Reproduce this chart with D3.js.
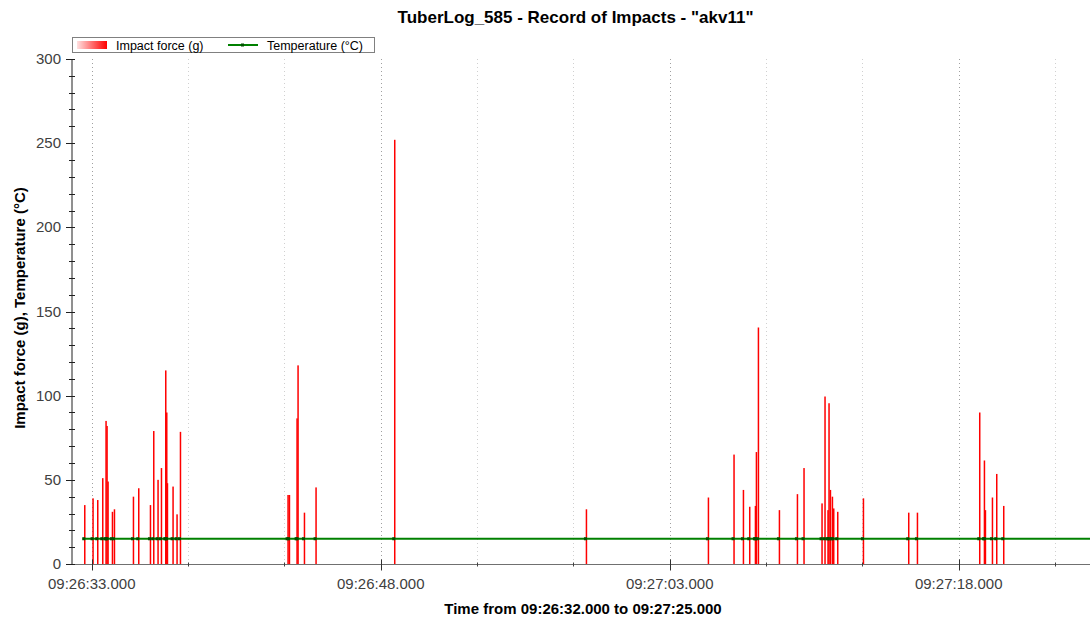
<!DOCTYPE html>
<html>
<head>
<meta charset="utf-8">
<script src="https://cdn.jsdelivr.net/npm/d3@7"></script>
<style>
  body { margin: 0; background: #fff; }
  svg { font-family: "Liberation Sans", Arial, sans-serif; }
</style>
</head>
<body>
<svg id="chart" width="1090" height="621"></svg>
<script>
// impact records (time, force in g, temperature in °C)
const impactTimes = [
  "09:26:32.637", "09:26:33.067", "09:26:33.311", "09:26:33.571", "09:26:33.742",
  "09:26:33.794", "09:26:33.846", "09:26:34.074", "09:26:34.178", "09:26:35.164",
  "09:26:35.439", "09:26:36.047", "09:26:36.218", "09:26:36.441", "09:26:36.618",
  "09:26:36.841", "09:26:36.893", "09:26:36.929", "09:26:37.220", "09:26:37.427",
  "09:26:37.604", "09:26:43.189", "09:26:43.261", "09:26:43.656", "09:26:43.708",
  "09:26:44.040", "09:26:44.642", "09:26:48.726", "09:26:58.676", "09:27:05.008",
  "09:27:06.337", "09:27:06.825", "09:27:07.152", "09:27:07.448", "09:27:07.499",
  "09:27:07.603", "09:27:08.693", "09:27:09.628", "09:27:09.970", "09:27:10.905",
  "09:27:11.060", "09:27:11.216", "09:27:11.268", "09:27:11.341", "09:27:11.444",
  "09:27:11.512", "09:27:11.720", "09:27:13.054", "09:27:15.405", "09:27:15.857",
  "09:27:19.090", "09:27:19.334", "09:27:19.386", "09:27:19.750", "09:27:19.973",
  "09:27:20.336"
];
const impactForces = [
  35, 39, 38, 51, 85, 82, 49, 31, 32.5, 40,
  45, 35, 79, 50, 57, 115, 90, 48, 46, 29.5,
  78.5, 41, 41, 86.5, 118, 30.5, 45.5, 252, 32.5, 39.5,
  65, 44, 34, 34.5, 66.5, 140.5, 32, 41.5, 57, 36,
  99.5, 32, 95.5, 44, 40, 33, 31, 39, 30.5, 30.5,
  90, 61.5, 32, 39.5, 53.5, 34.5
];
const impactTemps = [
  15, 15, 15, 15, 15, 15, 15, 15, 15, 15,
  15, 15, 15, 15, 15, 15, 15, 15, 15, 15,
  15, 15, 15, 15, 15, 15, 15, 15, 15, 15,
  15, 15, 15, 15, 15, 15, 15, 15, 15, 15,
  15, 15, 15, 15, 15, 15, 15, 15, 15, 15,
  15, 15, 15, 15, 15, 15
];
// temperature at the start and end of the record
const tempEdgeTimes = ["09:26:32.530", "09:27:25.000"];
const tempEdgeValues = [15, 15];

const timeStart = "09:26:32.000";
const timeEnd = "09:27:25.000";
const xTickTimes = ["09:26:33.000", "09:26:48.000", "09:27:03.000", "09:27:18.000"];
const yTicks = [0, 50, 100, 150, 200, 250, 300];

const title = 'TuberLog_585 - Record of Impacts - "akv11"';
const xTitle = "Time from 09:26:32.000 to 09:27:25.000";
const yTitle = "Impact force (g), Temperature (°C)";

const parse = d3.timeParse("%H:%M:%S.%L");
const fmt = d3.timeFormat("%H:%M:%S.%L");

const svg = d3.select("#chart");
const plotLeft = 72.5, plotRight = 1093.6, plotTop = 59, plotBottom = 564;

const x = d3.scaleTime()
    .domain([parse(timeStart), parse(timeEnd)])
    .range([plotLeft, plotRight]);
const y = d3.scaleLinear()
    .domain([0, 300])
    .range([plotBottom, plotTop]);

const defs = svg.append("defs");
const grad = defs.append("linearGradient").attr("id", "redGrad")
    .attr("x1", "0%").attr("x2", "100%");
grad.append("stop").attr("offset", "0%").attr("stop-color", "#ffe0e0");
grad.append("stop").attr("offset", "100%").attr("stop-color", "#ff0000");
defs.append("clipPath").attr("id", "plotClip")
    .append("rect").attr("x", plotLeft).attr("y", plotTop - 5)
    .attr("width", 1090 - plotLeft).attr("height", plotBottom - plotTop + 5);

// gridlines: major ticks every 15 s, minor every 5 s
const majorTimes = xTickTimes.map(parse);
const minorTimes = d3.timeSecond.every(1).range(parse(timeStart), parse(timeEnd))
    .filter(d => (d.getSeconds() - 33 + 60) % 5 === 0 && (d.getSeconds() - 33 + 60) % 15 !== 0);

svg.append("g").selectAll("line")
    .data(minorTimes)
    .join("line")
    .attr("x1", d => Math.round(x(d)) + 0.5).attr("x2", d => Math.round(x(d)) + 0.5)
    .attr("y1", plotTop).attr("y2", plotBottom)
    .attr("stroke", "#d0d0d0").attr("stroke-dasharray", "1,3");
svg.append("g").selectAll("line")
    .data(majorTimes)
    .join("line")
    .attr("x1", d => Math.round(x(d)) + 0.5).attr("x2", d => Math.round(x(d)) + 0.5)
    .attr("y1", plotTop).attr("y2", plotBottom)
    .attr("stroke", "#a0a0a0").attr("stroke-dasharray", "1,3");

const plot = svg.append("g").attr("clip-path", "url(#plotClip)");

// impact bars
plot.selectAll(".bar")
    .data(impactTimes.map((t, i) => ({ t: parse(t), v: impactForces[i] })))
    .join("rect")
    .attr("class", "bar")
    .attr("x", d => x(d.t) - 0.75)
    .attr("width", 1.5)
    .attr("y", d => y(d.v))
    .attr("height", d => y(0) - y(d.v))
    .attr("fill", "#ff0000");

// temperature line
const tempPts = [{ t: parse(tempEdgeTimes[0]), v: tempEdgeValues[0] }]
    .concat(impactTimes.map((t, i) => ({ t: parse(t), v: impactTemps[i] })))
    .concat([{ t: parse(tempEdgeTimes[1]), v: tempEdgeValues[1] }]);
plot.append("path")
    .datum(tempPts)
    .attr("d", d3.line().x(d => x(d.t)).y(d => y(d.v)))
    .attr("fill", "none")
    .attr("stroke", "#008000")
    .attr("stroke-width", 2);
plot.selectAll(".mark")
    .data(impactTimes.map((t, i) => ({ t: parse(t), v: impactTemps[i] })))
    .join("rect")
    .attr("class", "mark")
    .attr("x", d => x(d.t) - 2.5).attr("y", d => y(d.v) - 1.5)
    .attr("width", 3).attr("height", 3)
    .attr("fill", "#005000");

// x axis
const xAxis = svg.append("g").attr("transform", `translate(0,${plotBottom + 0.5})`);
xAxis.append("line").attr("x1", plotLeft - 0.5).attr("x2", 1090)
    .attr("stroke", "#707070");
xAxis.selectAll(".minor").data(minorTimes).join("line")
    .attr("x1", d => Math.round(x(d)) + 0.5).attr("x2", d => Math.round(x(d)) + 0.5)
    .attr("y1", -2).attr("y2", 2).attr("stroke", "#404040");
xAxis.selectAll(".major").data(majorTimes).join("line")
    .attr("x1", d => Math.round(x(d)) + 0.5).attr("x2", d => Math.round(x(d)) + 0.5)
    .attr("y1", -5).attr("y2", 6).attr("stroke", "#303030");
xAxis.selectAll("text").data(majorTimes).join("text")
    .attr("x", d => x(d)).attr("y", 24)
    .attr("text-anchor", "middle")
    .attr("font-size", 15).attr("fill", "#404040")
    .text(d => fmt(d));

// y axis
const yAxis = svg.append("g").attr("transform", `translate(${plotLeft - 0.5},0)`);
yAxis.append("line").attr("y1", plotTop).attr("y2", plotBottom).attr("stroke", "#202020");
yAxis.selectAll(".minor").data(d3.range(0, 301, 10).filter(v => v % 50 !== 0)).join("line")
    .attr("x1", -3).attr("x2", 3)
    .attr("y1", v => Math.round(y(v)) + 0.5).attr("y2", v => Math.round(y(v)) + 0.5)
    .attr("stroke", "#202020");
yAxis.selectAll(".major").data(yTicks).join("line")
    .attr("x1", -6).attr("x2", 3)
    .attr("y1", v => Math.round(y(v)) + 0.5).attr("y2", v => Math.round(y(v)) + 0.5)
    .attr("stroke", "#202020");
yAxis.selectAll("text").data(yTicks).join("text")
    .attr("x", -11).attr("y", v => y(v) + 5)
    .attr("text-anchor", "end")
    .attr("font-size", 15).attr("fill", "#404040")
    .text(v => v);

// titles
svg.append("text").attr("x", 575.5).attr("y", 23)
    .attr("text-anchor", "middle").attr("font-size", 17).attr("font-weight", "bold")
    .text(title);
svg.append("text").attr("x", 583).attr("y", 614)
    .attr("text-anchor", "middle").attr("font-size", 15).attr("font-weight", "bold")
    .text(xTitle);
svg.append("text").attr("transform", "translate(25,308) rotate(-90)")
    .attr("text-anchor", "middle").attr("font-size", 15).attr("font-weight", "bold")
    .text(yTitle);

// legend
const lg = svg.append("g");
lg.append("rect").attr("x", 72.5).attr("y", 37.5).attr("width", 302).attr("height", 15)
    .attr("fill", "#fff").attr("stroke", "#808080");
lg.append("rect").attr("x", 77).attr("y", 41).attr("width", 30).attr("height", 8)
    .attr("fill", "url(#redGrad)");
lg.append("text").attr("x", 116).attr("y", 49.5).attr("font-size", 12.5).text("Impact force (g)");
lg.append("line").attr("x1", 228).attr("x2", 258).attr("y1", 45).attr("y2", 45)
    .attr("stroke", "#008000").attr("stroke-width", 2);
lg.append("rect").attr("x", 241).attr("y", 43.5).attr("width", 3).attr("height", 3).attr("fill", "#005000");
lg.append("text").attr("x", 267).attr("y", 49.5).attr("font-size", 12.5).text("Temperature (°C)");
</script>
</body>
</html>
